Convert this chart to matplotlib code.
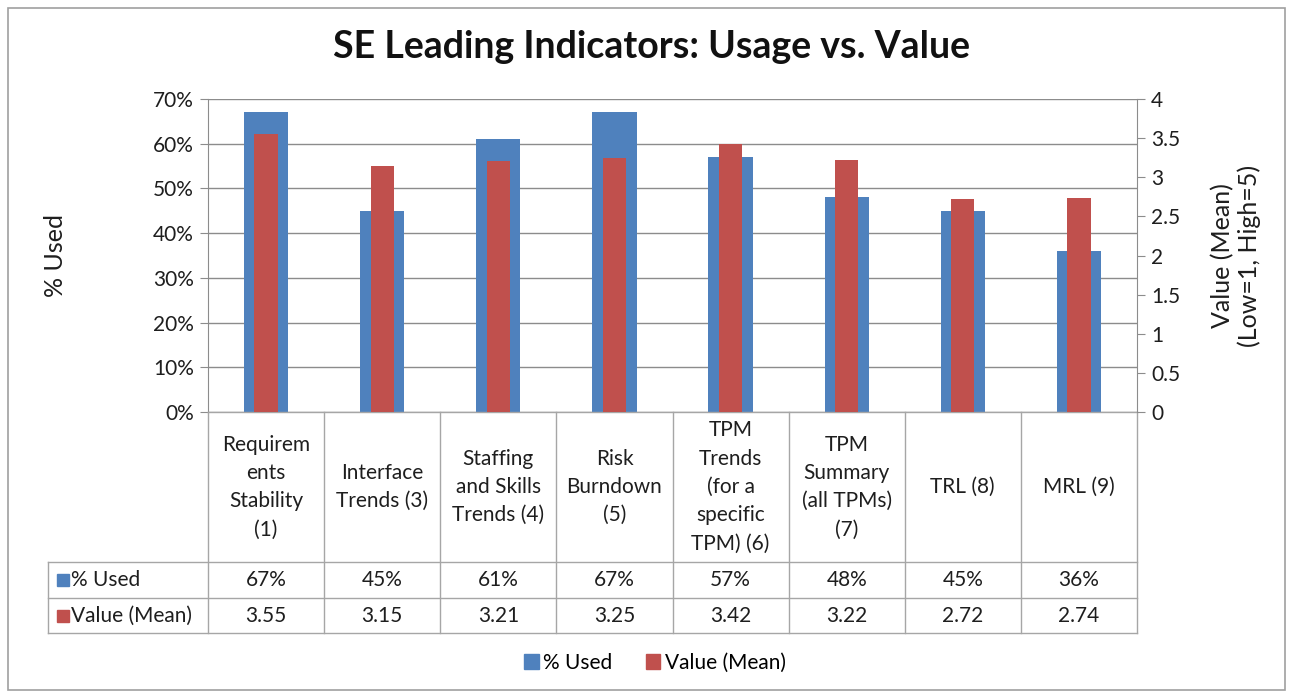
import matplotlib
matplotlib.use("Agg")
import matplotlib.pyplot as plt
import matplotlib.transforms as mtransforms
from matplotlib.patches import Rectangle
from matplotlib.lines import Line2D
import numpy as np

plt.rcParams['font.family'] = ['Lato', 'DejaVu Sans']

categories = ["Requirem\nents\nStability\n(1)", "Interface\nTrends (3)", "Staffing\nand Skills\nTrends (4)",
              "Risk\nBurndown\n(5)", "TPM\nTrends\n(for a\nspecific\nTPM) (6)", "TPM\nSummary\n(all TPMs)\n(7)",
              "TRL (8)", "MRL (9)"]
pct_used = [67, 45, 61, 67, 57, 48, 45, 36]
value_mean = [3.55, 3.15, 3.21, 3.25, 3.42, 3.22, 2.72, 2.74]
pct_labels = ["67%", "45%", "61%", "67%", "57%", "48%", "45%", "36%"]
val_labels = ["3.55", "3.15", "3.21", "3.25", "3.42", "3.22", "2.72", "2.74"]
left_ticks = [0, 10, 20, 30, 40, 50, 60, 70]
right_ticks = [0, 0.5, 1, 1.5, 2, 2.5, 3, 3.5, 4]

BLUE = "#4F81BD"
RED = "#C0504D"
GRID = "#8C8C8C"
TBL = "#A6A6A6"
TXT = "#1E1E1E"
FS = 15

W, H = 1293, 698
fig = plt.figure(figsize=(W / 100, H / 100), dpi=100)
fig.patch.set_facecolor("white")

L, R, T, B = 208, 1137, 99, 412
ax = fig.add_axes([L / W, (H - B) / H, (R - L) / W, (B - T) / H])
ax2 = ax.twinx()

x = np.arange(len(categories))
ax.bar(x, pct_used, width=0.38, color=BLUE, zorder=2)
ax2.bar(x, value_mean, width=0.2, color=RED, zorder=3)

ax.set_xlim(-0.5, len(categories) - 0.5)
ax.set_ylim(0, 70)
ax2.set_ylim(0, 4)
ax.set_yticks(left_ticks)
ax.set_yticklabels([f"{t}%" for t in left_ticks])
ax2.set_yticks(right_ticks)
ax2.set_yticklabels([f"{t:g}" for t in right_ticks])
ax.set_xticks([])
ax.yaxis.grid(True, color=GRID, linewidth=1.0, zorder=0)
ax.set_axisbelow(True)

for a in (ax, ax2):
    for s in a.spines.values():
        s.set_color(GRID)
    a.spines['top'].set_visible(False)
    a.tick_params(axis='y', length=6, color=GRID, labelsize=FS, pad=4, labelcolor=TXT)
ax2.spines['left'].set_visible(False)
ax.spines['right'].set_visible(False)
ax.spines['bottom'].set_visible(False)
ax2.spines['bottom'].set_visible(False)

ax.set_ylabel("% Used", fontsize=18, color=TXT)
ax.yaxis.set_label_coords((67 - L) / (R - L), 0.5)
ax2.set_ylabel("Value (Mean)\n(Low=1, High=5)", fontsize=18, color=TXT, linespacing=1.15)
ax2.yaxis.set_label_coords((1211 - L) / (R - L), 0.5)

# Data table
def fx(px):
    return (px - L) / (R - L)

def fy(py):
    return (B - py) / (B - T)

tr = mtransforms.blended_transform_factory(ax.transData, ax.transAxes)
rows = [412, 562, 598, 633]
tl = 48

def hline(py, x0, x1):
    ax.add_line(Line2D([fx(x0), fx(x1)], [fy(py), fy(py)], transform=ax.transAxes,
                       color=TBL, lw=1.0, clip_on=False, zorder=5))

def vline(px, y0, y1):
    ax.add_line(Line2D([fx(px), fx(px)], [fy(y0), fy(y1)], transform=ax.transAxes,
                       color=TBL, lw=1.0, clip_on=False, zorder=5))

hline(B, L, R)
for py in rows[1:]:
    hline(py, tl, R)
vline(tl, rows[1], rows[3])
for i in range(len(categories) + 1):
    px = L + i * (R - L) / len(categories)
    vline(px, B, rows[3])

for i, c in enumerate(categories):
    ax.text(i, fy((rows[0] + rows[1]) / 2), c, transform=tr, ha='center', va='center',
            fontsize=FS, linespacing=1.52, color=TXT, clip_on=False)
    ax.text(i, fy((rows[1] + rows[2]) / 2), pct_labels[i], transform=tr, ha='center', va='center',
            fontsize=FS, color=TXT, clip_on=False)
    ax.text(i, fy((rows[2] + rows[3]) / 2), val_labels[i], transform=tr, ha='center', va='center',
            fontsize=FS, color=TXT, clip_on=False)

# row headers with legend keys
for (py0, py1), col, lab in [((rows[1], rows[2]), BLUE, "% Used"), ((rows[2], rows[3]), RED, "Value (Mean)")]:
    cy = (py0 + py1) / 2
    ax.add_patch(Rectangle((fx(57), fy(cy + 6)), fx(69) - fx(57), fy(cy - 6) - fy(cy + 6),
                           transform=ax.transAxes, color=col, clip_on=False))
    ax.text(fx(71), fy(cy), lab, transform=ax.transAxes, ha='left', va='center',
            fontsize=FS, color=TXT, clip_on=False)

fig.suptitle("SE Leading Indicators: Usage vs. Value", x=651 / W, y=1 - 47 / H, va='center',
             fontsize=27, fontweight='bold', color="#111111")

handles = [Rectangle((0, 0), 1, 1, color=BLUE), Rectangle((0, 0), 1, 1, color=RED)]
fig.legend(handles, ["% Used", "Value (Mean)"], loc='center', bbox_to_anchor=(655 / W, 1 - 663 / H),
           ncol=2, frameon=False, fontsize=FS, handlelength=0.7, handleheight=0.7,
           handletextpad=0.2, columnspacing=1.6)

fig.add_artist(Rectangle((8 / W, 1 - 690 / H), (1285 - 8) / W, (690 - 8) / H,
                         transform=fig.transFigure, fill=False, edgecolor="#A0A0A0", lw=1.2))

fig.savefig("out.png", dpi=100)
